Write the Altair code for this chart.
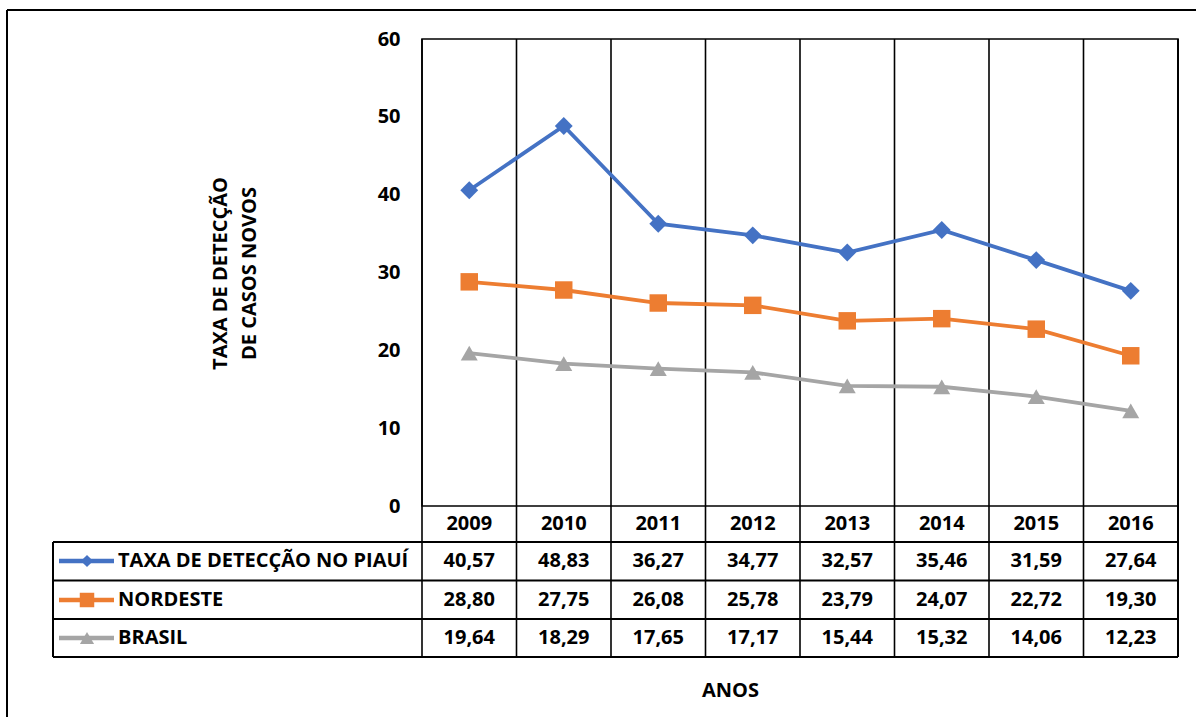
import altair as alt
import pandas as pd

# Taxa de detecção de casos novos por ano
anos = ["2009", "2010", "2011", "2012", "2013", "2014", "2015", "2016"]
series = ["TAXA DE DETECÇÃO NO PIAUÍ", "NORDESTE", "BRASIL"]
piaui = [40.57, 48.83, 36.27, 34.77, 32.57, 35.46, 31.59, 27.64]
nordeste = [28.80, 27.75, 26.08, 25.78, 23.79, 24.07, 22.72, 19.30]
brasil = [19.64, 18.29, 17.65, 17.17, 15.44, 15.32, 14.06, 12.23]
y_ticks = [0, 10, 20, 30, 40, 50, 60]

cores = ["#4472C4", "#ED7D31", "#A5A5A5"]
formas = ["diamond", "square", "triangle-up"]

rows = []
for nome, valores in zip(series, [piaui, nordeste, brasil]):
    for ano, v in zip(anos, valores):
        rows.append({"ano": ano, "serie": nome, "valor": v,
                     "rotulo": f"{v:.2f}".replace(".", ",")})
df = pd.DataFrame(rows)
df_anos = pd.DataFrame({"ano": anos})
um = pd.DataFrame({"k": [0]})

FONT = "Open Sans"
FS = 20
W, H = 756, 467

# table geometry (pixels relative to the plot area)
ROW_LINES = [503, 541.5, 580, 618]
ROW_CENTERS = [522, 561, 599]
LEFT_COL = -369

x_scale = alt.Scale(domain=anos, type="band", paddingInner=0, paddingOuter=0)
y_scale = alt.Scale(domain=[0, 60], nice=False, zero=True)
cor_scale = alt.Scale(domain=series, range=cores)
forma_scale = alt.Scale(domain=series, range=formas)
tam_scale = alt.Scale(domain=series, range=[320, 290, 330])

x_axis = alt.Axis(title="ANOS", labelAngle=0, grid=False, domain=False, ticks=False,
                  tickSize=0, labelPadding=17, labelBaseline="middle",
                  labelFont=FONT, labelFontSize=FS, labelFontWeight="bold",
                  labelColor="black", titleFont=FONT, titleFontSize=FS,
                  titleFontWeight="bold", titleColor="black",
                  titleX=308, titleY=184, titleBaseline="middle")
y_axis = alt.Axis(title=["TAXA DE DETECÇÃO", "DE CASOS NOVOS"], values=y_ticks,
                  grid=False, domain=False, ticks=False, tickSize=0, labelPadding=22,
                  labelFont=FONT, labelFontSize=FS, labelFontWeight="bold",
                  labelColor="black", titleFont=FONT, titleFontSize=FS,
                  titleFontWeight="bold", titleColor="black", titleAngle=270,
                  titleX=-202, titleY=234, titleBaseline="middle",
                  titleAlign="center", titleLineHeight=29)

x_enc = alt.X("ano:N", scale=x_scale, axis=x_axis)
y_enc = alt.Y("valor:Q", scale=y_scale, axis=y_axis)

# vertical grid lines between years, continued through the table
grade_v = alt.Chart(df_anos).mark_rule(color="black", strokeWidth=1.6).encode(
    x=alt.X("ano:N", scale=x_scale, axis=x_axis, bandPosition=0),
    y=alt.value(0), y2=alt.value(ROW_LINES[-1]))
grade_dir = alt.Chart(um).mark_rule(color="black", strokeWidth=2).encode(
    x=alt.value(W), y=alt.value(0), y2=alt.value(ROW_LINES[-1]))

linhas = alt.Chart(df).mark_line(strokeWidth=3.8).encode(
    x=x_enc, y=y_enc,
    color=alt.Color("serie:N", scale=cor_scale, legend=None),
    detail="serie:N")
pontos = alt.Chart(df).mark_point(filled=True, opacity=1).encode(
    x=x_enc, y=y_enc,
    color=alt.Color("serie:N", scale=cor_scale, legend=None),
    shape=alt.Shape("serie:N", scale=forma_scale, legend=None),
    size=alt.Size("serie:N", scale=tam_scale, legend=None))

camadas = [grade_v, grade_dir, linhas, pontos]

# data table: values, legend keys and series names
tam_chave = [150, 210, 200]
for i, nome in enumerate(series):
    yc = ROW_CENTERS[i]
    base = alt.Chart(df).transform_filter(alt.datum.serie == nome)
    camadas.append(base.mark_text(font=FONT, fontSize=FS, fontWeight="bold",
                                  color="black", baseline="middle").encode(
        x=x_enc, y=alt.value(yc), text="rotulo:N"))
    chave = alt.Chart(pd.DataFrame({"serie": [nome]}))
    camadas.append(chave.mark_rule(color=cores[i], strokeWidth=4.5).encode(
        x=alt.value(-363), x2=alt.value(-308), y=alt.value(yc)))
    camadas.append(chave.mark_point(filled=True, opacity=1, shape=formas[i],
                                    color=cores[i], size=tam_chave[i]).encode(
        x=alt.value(-335), y=alt.value(yc)))
    camadas.append(chave.mark_text(font=FONT, fontSize=FS, fontWeight="bold",
                                   color="black", align="left",
                                   baseline="middle").encode(
        x=alt.value(-304), y=alt.value(yc), text="serie:N"))

# horizontal table borders
for yl in ROW_LINES:
    camadas.append(alt.Chart(um).mark_rule(color="black", strokeWidth=2).encode(
        x=alt.value(LEFT_COL), x2=alt.value(W), y=alt.value(yl)))
camadas.append(alt.Chart(um).mark_rule(color="black", strokeWidth=2).encode(
    x=alt.value(LEFT_COL), y=alt.value(ROW_LINES[0]), y2=alt.value(ROW_LINES[-1])))

# outer chart frame
camadas.append(alt.Chart(um).mark_rule(color="black", strokeWidth=2).encode(
    x=alt.value(-415), x2=alt.value(800), y=alt.value(-29)))
camadas.append(alt.Chart(um).mark_rule(color="black", strokeWidth=2).encode(
    x=alt.value(-415), y=alt.value(-29), y2=alt.value(700)))

chart = alt.layer(*camadas).properties(
    width=W, height=H,
    autosize=alt.AutoSizeParams(type="none"),
    padding={"left": 422, "top": 39, "right": 18, "bottom": 211},
    background="white",
).configure_view(stroke="black", strokeWidth=1.6)

chart.save("out.html", embed_options={"renderer": "svg", "actions": False})
